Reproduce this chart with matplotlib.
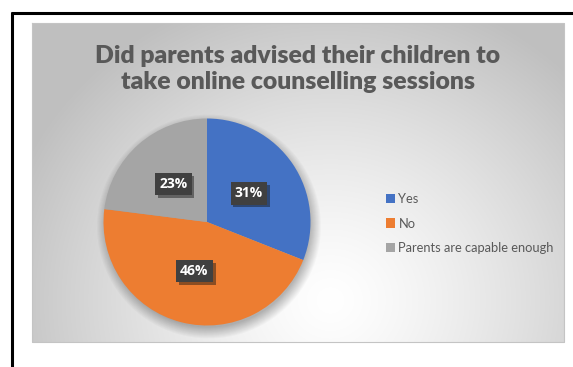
import numpy as np
import matplotlib.pyplot as plt
import matplotlib.patheffects as pe

# chart data
labels = ["Yes", "No", "Parents are capable enough"]
shares = [31, 46, 23]
colors = ["#4472c4", "#ed7d31", "#a5a5a5"]
title = "Did parents advised their children to\ntake online counselling sessions"

W, H = 573, 367
fig = plt.figure(figsize=(W / 100, H / 100), dpi=100)
fig.patch.set_facecolor("white")

# background layer in pixel coordinates
bg = fig.add_axes([0, 0, 1, 1])
bg.set_xlim(0, W)
bg.set_ylim(H, 0)
bg.axis("off")

# frame lines
bg.plot([11, W], [13, 13], color="black", lw=2.2, solid_capstyle="butt")
bg.plot([12, 12], [12, H], color="black", lw=2.2, solid_capstyle="butt")

# radial gradient panel
px0, px1, py0, py1 = 32, 564, 23, 342
xx, yy = np.meshgrid(np.arange(px0, px1), np.arange(py0, py1))
d = np.sqrt(((xx - 330) / 340.0) ** 2 + ((yy - 300) / 320.0) ** 2)
d = np.clip(d, 0, 1)
shade = 1.0 - 0.25 * d ** 1.3
img = np.dstack([shade, shade, shade])
bg.imshow(img, extent=(px0, px1, py1, py0), aspect="auto", zorder=1)
bg.plot([px0, px1, px1, px0, px0], [py0, py0, py1, py1, py0],
        color="#c4c4c4", lw=0.8, zorder=2)

# soft shadow under the pie
cx, cy, r = 207, 222, 103.5
sx, sy = np.meshgrid(np.arange(90, 330), np.arange(105, 342))
sd = np.sqrt((sx - cx - 1.5) ** 2 + (sy - cy - 4) ** 2)
alpha = np.clip((r + 9 - sd) / 12.0, 0, 1) * 0.28
shadow = np.zeros(sx.shape + (4,))
shadow[..., 3] = alpha
bg.imshow(shadow, extent=(90, 330, 342, 105), aspect="auto", zorder=3)

# pie
ax = fig.add_axes([(cx - r) / W, 1 - (cy + r) / H, 2 * r / W, 2 * r / H])
ax.patch.set_alpha(0)
wedges, texts, autotexts = ax.pie(
    shares, colors=colors, startangle=90, counterclock=False,
    autopct="%1.0f%%", pctdistance=0.49, radius=1,
    wedgeprops=dict(linewidth=0),
    textprops=dict(color="white", fontsize=10, fontweight="bold",
                   family="Open Sans"))
ax.set_xlim(-1, 1)
ax.set_ylim(-1, 1)
for t in autotexts:
    t.set_bbox(dict(boxstyle="square,pad=0.3", facecolor="#404040",
                    edgecolor="none"))
    t.get_bbox_patch().set_path_effects(
        [pe.SimplePatchShadow(offset=(2, -2), alpha=0.45), pe.Normal()])

# title
fig.text(298 / W, 1 - 69 / H, title, ha="center", va="center",
         fontsize=17.8, fontweight="heavy", color="#595959",
         family="Lato", linespacing=1.25)

# legend
fig.legend(wedges, labels, loc="center left",
           bbox_to_anchor=(381 / W, 1 - 223.5 / H), frameon=False,
           handlelength=0.7, handleheight=0.7, handletextpad=0.25,
           labelspacing=1.0, borderaxespad=0,
           prop=dict(family="Lato", size=9.3), labelcolor="#595959")

fig.savefig("out.png", dpi=100)
